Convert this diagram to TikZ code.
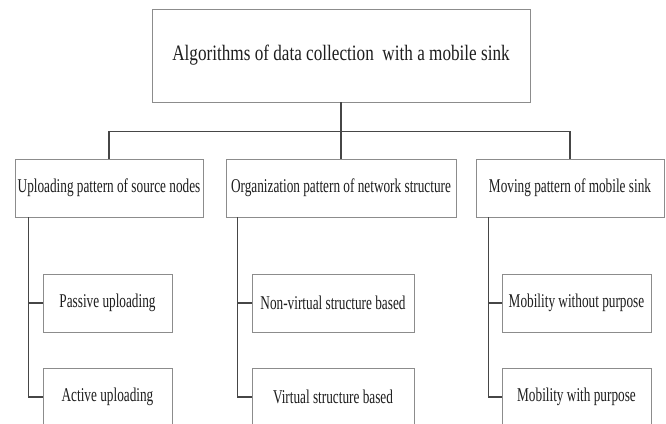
\documentclass[tikz,border=0pt]{standalone}
\usepackage{fontspec}
\newfontfamily\ftop[FakeStretch=0.78]{Liberation Serif}
\newfontfamily\fsub[FakeStretch=0.68]{Liberation Serif}
\definecolor{boxline}{RGB}{140,140,140}
\definecolor{conline}{RGB}{70,70,70}
\definecolor{txt}{RGB}{30,30,30}
\tikzset{
  box/.style={draw=boxline, line width=0.9pt, rectangle, inner sep=0pt, text=txt, align=center},
  topbox/.style={box, minimum width=378pt, minimum height=93pt, font=\ftop\fontsize{22}{24}\selectfont},
  midbox/.style={box, minimum height=58pt, font=\fsub\fontsize{19.5}{21}\selectfont},
  leafbox/.style={box, minimum height=58pt, font=\fsub\fontsize{19.5}{21}\selectfont},
  conn/.style={draw=conline, line width=1.1pt}
}
\begin{document}
\begin{tikzpicture}[x=1pt, y=-1pt]
\useasboundingbox (0,0) rectangle (666,423);
\clip (0,0) rectangle (666,423);
\fill[white] (0,0) rectangle (666,423);
% top
\node[topbox] (top) at (341,55.5) {Algorithms of data collection\ \ with a mobile sink};
% level 1
\node[midbox, minimum width=188pt] (l1) at (109,188) {Uploading pattern of source nodes};
\node[midbox, minimum width=230pt] (l2) at (341,188) {Organization pattern of network structure};
\node[midbox, minimum width=188pt] (l3) at (570,188) {Moving pattern of mobile sink};
% leaves
\node[leafbox, minimum width=129pt] (p1) at (107.5,303) {Passive uploading};
\node[leafbox, minimum width=129pt] (a1) at (107.5,397) {Active uploading};
\node[leafbox, minimum width=162pt] (p2) at (333,303) {Non-virtual structure based};
\node[leafbox, minimum width=162pt] (a2) at (333,397) {Virtual structure based};
\node[leafbox, minimum width=149pt] (p3) at (576.5,303) {Mobility without purpose};
\node[leafbox, minimum width=149pt] (a3) at (576.5,397) {Mobility with purpose};
% trunk start coordinates
\coordinate (t1) at ([xshift=14pt]l1.south west);
\coordinate (t2) at ([xshift=12pt]l2.south west);
\coordinate (t3) at ([xshift=13pt]l3.south west);
% connectors
\draw[conn] (top.south) -- (l2.north);
\draw[conn] (l1.north) -- ++(0,-27) -| (l3.north);
\draw[conn] (t1) |- (p1.west);
\draw[conn] (t1) |- (a1.west);
\draw[conn] (t2) |- (p2.west);
\draw[conn] (t2) |- (a2.west);
\draw[conn] (t3) |- (p3.west);
\draw[conn] (t3) |- (a3.west);
\end{tikzpicture}
\end{document}
